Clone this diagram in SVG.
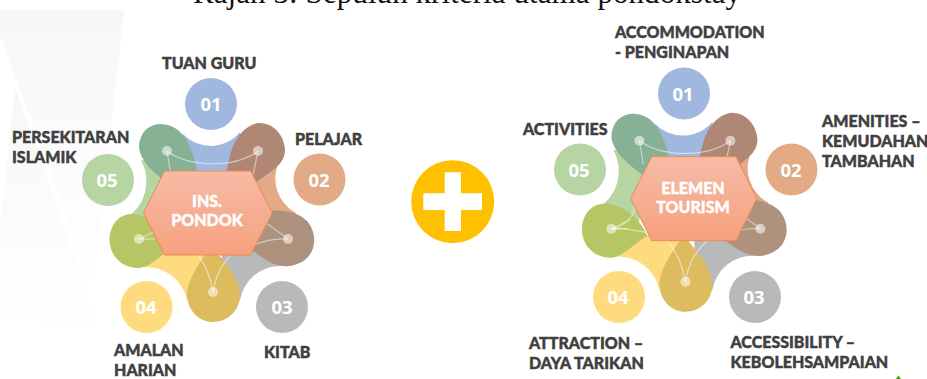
<svg xmlns="http://www.w3.org/2000/svg" xmlns:xlink="http://www.w3.org/1999/xlink" width="927" height="379" viewBox="0 0 927 379">
<style>
.lbl{font-family:"Lato","Liberation Sans",sans-serif;font-weight:900;font-size:16px;fill:#404040;stroke:#404040;stroke-width:.45}
.num{font-family:"Open Sans","Liberation Sans",sans-serif;font-weight:700;font-size:18.5px;fill:#fff;text-anchor:middle}
.hexl{font-family:"Lato","Liberation Sans",sans-serif;font-weight:900;font-size:16px;fill:#fff;stroke:#fff;stroke-width:.4;text-anchor:middle}
.title{font-family:"Liberation Serif",serif;font-size:31px;fill:#111}
.hex{fill:url(#hexg);stroke:#ec8a50;stroke-width:1}
.conn{fill:none;stroke:#fff;stroke-opacity:.5;stroke-width:1.2}
.dot{fill:#fff;fill-opacity:.55}
.c1{fill:#a0b8e0}.c2{fill:#e2aa85}.c3{fill:#b9b9b9}.c4{fill:#fedb7e}.c5{fill:#b6d5a2}
</style>
<defs>
<linearGradient id="hexg" x1="0" y1="0" x2="0" y2="1"><stop offset="0" stop-color="#f6bba6"/><stop offset="1" stop-color="#f6a17f"/></linearGradient>
<linearGradient id="bg" x1="0" y1="0" x2="0" y2="1"><stop offset="0" stop-color="#f7f7f7"/><stop offset="1" stop-color="#fff"/></linearGradient>
<g id="petals">
<path class="c1" d="M183,134A38,38 0 0 0 240,132L240,185L185,185Z"/>
<path class="c2" d="M280,160A39,39 0 0 0 296,213L290,225L245,225L245,165Z"/>
<path class="c3" d="M282,266A41,41 0 0 0 240,300L222,300L222,240L265,240Z"/>
<path class="c4" d="M143,267A42,42 0 0 1 187,300L215,300L215,245L160,245Z"/>
<path class="c5" d="M141,160A44,44 0 0 1 125,219L165,240L180,165Z"/>
<path fill="#86b194" d="M198,180C196,160 190,140 178,130C165,120 145,122 140,140C135,155 150,172 175,188Z"/>
<path fill="#b08674" d="M226,180C228,155 235,128 258,123C275,122 285,138 285,150C285,165 270,172 255,183Z"/>
<path fill="#ae927d" d="M255,215C270,208 295,208 308,222C320,238 315,262 290,266C275,268 262,258 250,248Z"/>
<path fill="#dcbc5f" d="M208,250C200,262 187,280 187,295C188,312 200,322 213,322C228,322 240,310 240,295C240,280 225,262 215,250Z"/>
<path fill="#b7c664" d="M172,240C160,222 145,213 130,214C112,216 108,235 110,245C113,260 125,268 138,268C150,268 160,255 175,246Z"/>
</g>
<g id="links">
<path class="conn" d="M167,151C190,168 235,168 258,151"/>
<path class="conn" d="M167,151L171,175"/>
<path class="conn" d="M258,151L253,175"/>
<path class="conn" d="M288,239L265,222"/>
<path class="conn" d="M288,239C275,238 265,240 252,246"/>
<path class="conn" d="M139,239L158,230"/>
<path class="conn" d="M139,239L155,239"/>
<path class="conn" d="M213,292C210,275 205,262 194,250"/>
<path class="conn" d="M213,292C216,275 222,262 236,250"/>
</g>
<g id="dots">
<circle class="dot" cx="167" cy="151" r="5"/><circle class="dot" cx="258" cy="151" r="5"/><circle class="dot" cx="288" cy="239" r="5"/><circle class="dot" cx="213" cy="292" r="5"/><circle class="dot" cx="139" cy="239" r="5"/>
</g>
</defs>

<g id="backdrop">
<polygon points="0,10 124,10 93,290 0,35" fill="url(#bg)"/>
<polygon points="15,88 100,330 0,325 0,230" fill="url(#bg)"/>
</g>

<text class="title" x="193" y="3" textLength="548" lengthAdjust="spacing">Rajah 3: Sepuluh kriteria utama pondokstay</text>

<g id="flower-left-petals"><use xlink:href="#petals" href="#petals"/></g>
<g id="flower-right-petals" transform="translate(472.4,-10.3)"><use xlink:href="#petals" href="#petals"/></g>

<g id="connectors">
<use xlink:href="#links" href="#links"/>
<g transform="translate(472.4,-10.3)"><use xlink:href="#links" href="#links"/>
<path class="conn" d="M139,239C150,238 165,225 161,215"/>
<path class="conn" d="M139,239C160,238 185,245 195,250"/>
</g>
</g>
<use xlink:href="#dots" href="#dots"/>
<g transform="translate(472.4,-10.3)"><use xlink:href="#dots" href="#dots"/></g>

<g id="hub-left"><polygon class="hex" points="143.5,213 164.5,171 250.7,171 272.3,213 250.7,255 164.5,255"/>
<text class="hexl" x="207" y="207">INS.</text><text class="hexl" x="207" y="226">PONDOK</text></g>
<g id="hub-right"><polygon class="hex" points="630.7,198.7 651.7,156.7 736,156.7 756.7,198.7 736,240.7 651.7,240.7"/>
<text class="hexl" x="693" y="194">ELEMEN</text><text class="hexl" x="693" y="213">TOURISM</text></g>

<g id="node-l1"><circle class="c1" cx="211" cy="104" r="26"/><text class="num" x="211" y="111">01</text><text class="lbl" x="162" y="68.5">TUAN GURU</text></g>
<g id="node-l2"><circle class="c2" cx="319.5" cy="179.5" r="26"/><text class="num" x="319" y="187">02</text><text class="lbl" x="295" y="145">PELAJAR</text></g>
<g id="node-l3"><circle class="c3" cx="282" cy="307" r="26"/><text class="num" x="282" y="314">03</text><text class="lbl" x="264" y="358">KITAB</text></g>
<g id="node-l4"><circle class="c4" cx="146.5" cy="307" r="26"/><text class="num" x="146" y="314">04</text><text class="lbl" x="114" y="356">AMALAN</text><text class="lbl" x="114" y="376">HARIAN</text></g>
<g id="node-l5"><circle class="c5" cx="108" cy="180" r="26"/><text class="num" x="107" y="187">05</text><text class="lbl" x="12" y="143">PERSEKITARAN</text><text class="lbl" x="12" y="163">ISLAMIK</text></g>

<g id="node-r1"><circle class="c1" cx="684" cy="93.5" r="26"/><text class="num" x="683" y="101">01</text><text class="lbl" x="615" y="38">ACCOMMODATION</text><text class="lbl" x="615" y="58">- PENGINAPAN</text></g>
<g id="node-r2"><circle class="c2" cx="791.5" cy="169.5" r="26"/><text class="num" x="791" y="177">02</text><text class="lbl" x="822" y="127">AMENITIES –</text><text class="lbl" x="822" y="147">KEMUDAHAN</text><text class="lbl" x="822" y="167">TAMBAHAN</text></g>
<g id="node-r3"><circle class="c3" cx="755" cy="297" r="26"/><text class="num" x="754" y="304">03</text><text class="lbl" x="730.5" y="348">ACCESSIBILITY –</text><text class="lbl" x="730.5" y="368">KEBOLEHSAMPAIAN</text></g>
<g id="node-r4"><circle class="c4" cx="619" cy="297" r="26"/><text class="num" x="618" y="304">04</text><text class="lbl" x="529" y="349">ATTRACTION –</text><text class="lbl" x="529" y="368.5">DAYA TARIKAN</text></g>
<g id="node-r5"><circle class="c5" cx="580" cy="169.5" r="26"/><text class="num" x="579" y="177">05</text><text class="lbl" x="523" y="135">ACTIVITIES</text></g>

<g id="plus"><circle cx="452.7" cy="201.7" r="41.5" fill="#ffc000"/><path fill="#fff" d="M444.7,172.3H461V193.3H482V210H461V231H444.7V210H423.3V193.3H444.7Z"/></g>
<polygon points="896,379 898.5,375.5 901,379" fill="#4a9a10"/>
</svg>
